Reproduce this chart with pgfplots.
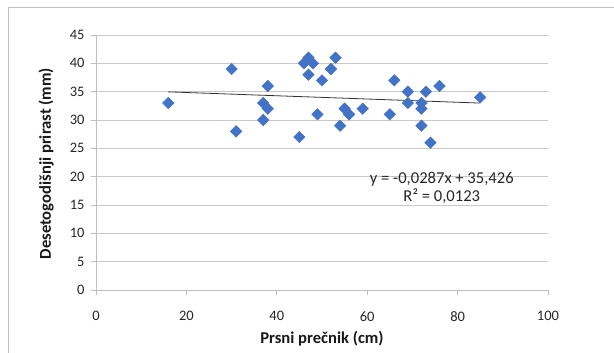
\documentclass[border=0pt]{standalone}
\usepackage{fontspec}
\setmainfont{Carlito}
\usepackage{pgfplots}
\pgfplotsset{compat=1.18}
\definecolor{mk}{HTML}{4472C4}
\definecolor{gridc}{RGB}{200,200,200}
\definecolor{axc}{RGB}{190,190,190}
\begin{document}
\begin{tikzpicture}[x=1bp,y=1bp]
\useasboundingbox (-96bp,-63bp) rectangle (518bp,290bp);
\clip (-96bp,-63bp) rectangle (518bp,290bp);
\draw[color=axc, line width=1bp] (-87bp,-80bp) -- (-87bp,282bp) -- (540bp,282bp);
\begin{axis}[
  at={(0bp,0bp)}, anchor=origin,
  scale only axis, width=452bp, height=255bp,
  xmin=0, xmax=100, ymin=0, ymax=45,
  xtick={0,20,...,100}, ytick={0,5,...,45},
  ymajorgrids, grid style={color=gridc, line width=0.8bp},
  axis x line*=bottom, axis y line*=left,
  axis line style={color=axc, line width=0.8bp, -},
  tick style={color=axc, line width=0.8bp},
  tick align=outside, major tick length=5bp,
  xtick pos=bottom, ytick pos=left,
  every tick label/.append style={font=\fontsize{14.5bp}{17bp}\selectfont, text=black!85},
  /pgf/number format/assume math mode=true,
  yticklabel style={xshift=-3bp},
  xticklabel style={yshift=-13bp},
  clip=false,
]
\addplot[only marks, mark=square*, mark size=4.1bp, mark options={rotate=45, fill=mk, draw=mk}] coordinates {
(16,33) (30,39) (31,28) (37,30) (37,33) (38,32) (38,36)
(45,27) (46,40) (47,41) (48,40) (47,38) (49,31) (50,37)
(52,39) (53,41) (54,29) (55,32) (56,31) (59,32) (65,31)
(66,37) (69,35) (69,33) (72,33) (72,32) (72,29) (73,35)
(74,26) (76,36) (85,34)
};
\addplot[black!80, line width=0.8bp] coordinates {(16,34.967) (85,32.986)};
\node[align=center, font=\fontsize{16.6bp}{18bp}\selectfont, text=black!85] at (axis cs:76.5,18.1) {y = -0,0287x + 35,426\\R² = 0,0123};
\node[anchor=base, font=\fontsize{16.6bp}{19bp}\selectfont\bfseries, text=black!90] at (axis cs:50,-9.5) {Prsni prečnik (cm)};
\node[anchor=base, rotate=90, font=\fontsize{16.6bp}{19bp}\selectfont\bfseries, text=black!90] at (axis cs:-9.96,22.3) {Desetogodišnji prirast (mm)};
\end{axis}
\end{tikzpicture}
\end{document}
